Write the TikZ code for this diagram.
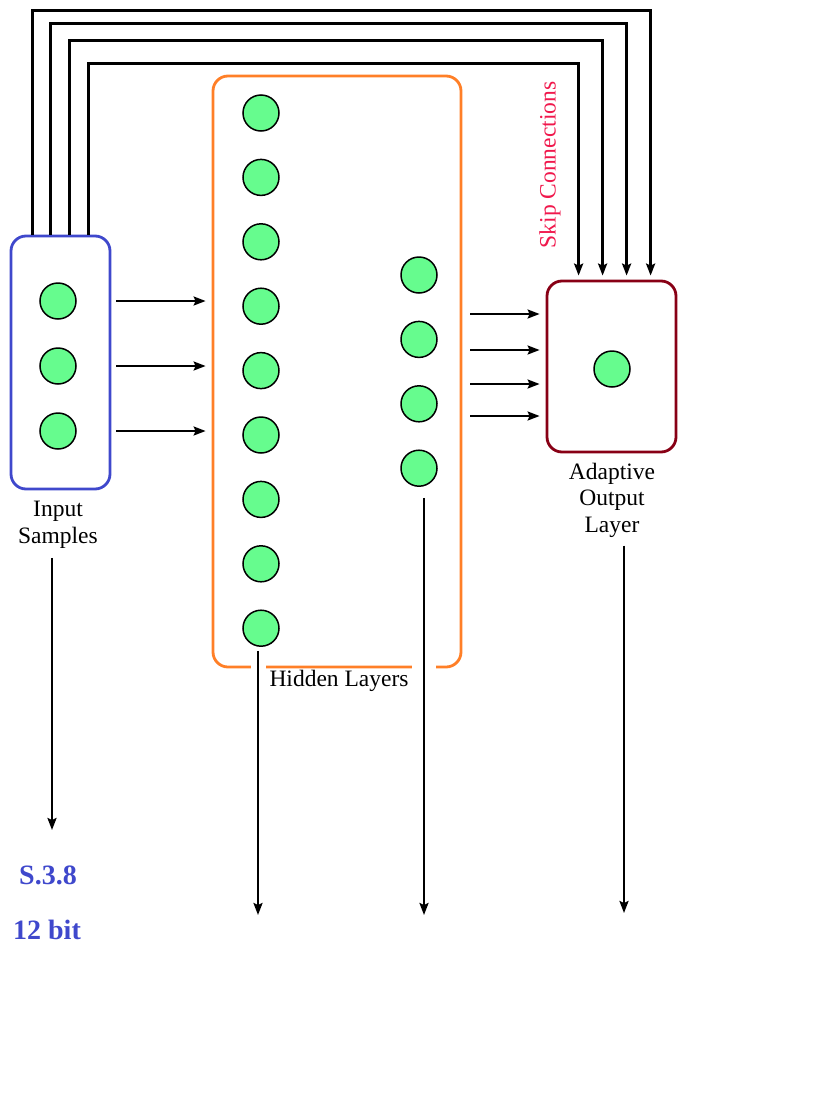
\documentclass[tikz,border=0pt]{standalone}
\usepackage{fontspec}
\setmainfont{Liberation Serif}
\usetikzlibrary{arrows.meta,positioning}
\definecolor{inblue}{RGB}{63,72,204}
\definecolor{hidorange}{RGB}{255,127,39}
\definecolor{outred}{RGB}{136,0,21}
\definecolor{cellgreen}{RGB}{102,252,142}
\definecolor{skipred}{RGB}{240,24,76}
\begin{document}
\begin{tikzpicture}[x=1pt,y=-1pt,line width=2.2pt,
  neuron/.style={circle,draw=black,fill=cellgreen,line width=1.5pt,minimum size=36pt,inner sep=0pt},
  layerbox/.style={draw=#1,rounded corners=15pt,line width=2.8pt,inner sep=0pt},
  lab/.style={align=center,font=\fontsize{23.5}{26.5}\selectfont},
  fmt/.style={text=inblue,font=\fontsize{28}{32}\selectfont\bfseries},
  arr/.style={-{Stealth[length=12pt,width=9pt,inset=2pt]},line width=2.2pt},
  skip/.style={arr,line width=3.2pt},
  cut/.style={preaction={draw=white,line width=#1}}]
  \useasboundingbox (0,0) rectangle (828,1103);
  % layer frames
  \node[layerbox=inblue,minimum width=99pt,minimum height=253pt] (inbox) at (60.5,362.5) {};
  \node[layerbox=hidorange,minimum width=248pt,minimum height=591pt] (hidbox) at (337,371.5) {};
  \node[layerbox=outred,minimum width=129pt,minimum height=171pt] (outbox) at (611.5,366.5) {};
  % neurons
  \foreach \i in {1,2,3} \node[neuron] (in\i) at (58,{301+65*(\i-1)}) {};
  \foreach \i in {1,...,9} \node[neuron] (h\i) at (261,{113+64.4*(\i-1)}) {};
  \foreach \i in {1,...,4} \node[neuron] (g\i) at (419,{275+64.4*(\i-1)}) {};
  \node[neuron] (o1) at (612,369) {};
  % labels
  \node[lab] (inlab) at (58,525) {Input\\Samples};
  \node[lab] (hidlab) at (339,681) {Hidden Layers};
  \node[lab] (outlab) at (612,500) {Adaptive\\Output\\Layer};
  \node[lab,text=skipred,rotate=90] (skiplab) at (550,165) {Skip Connections};
  \node[fmt] (sfmt) at (48,875) {S.3.8};
  \node[fmt] (bits) at (47,930) {12 bit};
  % skip connections
  \foreach \a/\t/\b in {23/12/105,41/25/81,60/42/57,79/65/33}
    \draw[skip,shorten >=4pt] ([xshift=\a]inbox.north west) -- ++(0,\t-236) -| ([xshift=\b]outbox.north west);
  % feed forward
  \foreach \i in {1,2,3}
    \draw[arr,shorten <=5pt,shorten >=6pt] (in\i -| inbox.east) -- (in\i -| hidbox.west);
  \foreach \y in {314,350,384,416}
    \draw[arr,shorten <=8pt,shorten >=6pt] (hidbox.east |- 0,\y) -- (outbox.west |- 0,\y);
  % outputs downwards
  \coordinate (e1) at (52,830);
  \coordinate (e2) at (258,915);
  \coordinate (e3) at (424,915);
  \coordinate (e4) at (624,913);
  \draw[arr] (inlab.south -| e1) ++(0,5) -- (e1);
  \draw[arr,cut=15pt,shorten <=4pt] (h9.south -| e2) -- (e2);
  \draw[arr,cut=24pt] (g4.south -| e3) ++(0,11) -- (e3);
  \draw[arr] (outlab.south -| e4) ++(0,4) -- (e4);
\end{tikzpicture}
\end{document}
